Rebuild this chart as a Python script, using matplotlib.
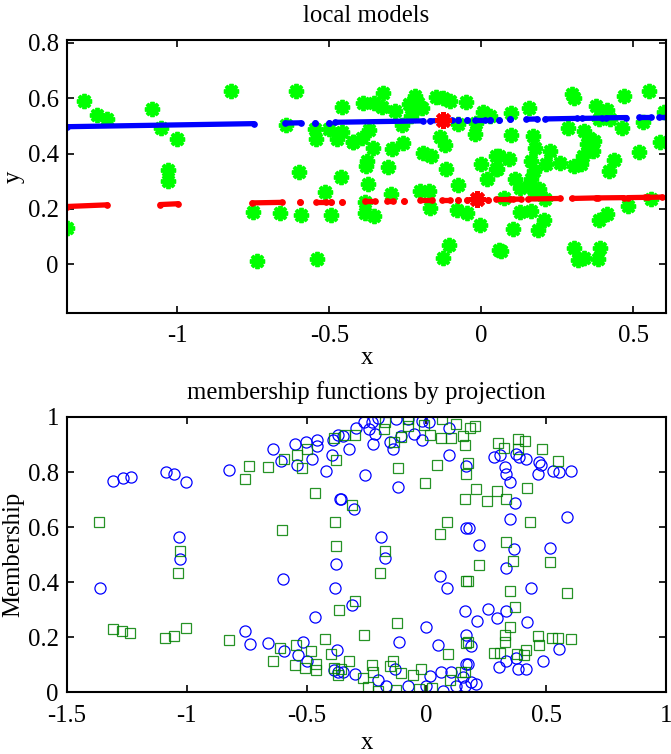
import matplotlib
matplotlib.use('Agg')
import matplotlib.pyplot as plt

plt.rcParams['font.family'] = ['Liberation Serif', 'DejaVu Serif']
plt.rcParams['axes.unicode_minus'] = False
FS = 17.8

# ---- top panel: samples (green stars)
star_x = [-1.306, -1.266, -1.233, -1.085, -1.055, -1.002, -1.030, -1.030, -1.363,
          -0.825, -0.609, -0.457, -0.642, -0.549, -0.501, -0.544, -0.475, -0.459, -0.421,
          -0.601, -0.461, -0.516, -0.752, -0.661, -0.592, -0.496, -0.737, -0.541,
          -0.325, -0.388, -0.353, -0.328, -0.284, -0.219, -0.237, -0.208, -0.224, -0.197,
          -0.148, -0.126, -0.102, -0.051, -0.230, -0.260, -0.077, 0.005, 0.027, -0.019,
          -0.020, -0.369, -0.393, -0.421, -0.357, -0.295, -0.257, -0.137, -0.120, -0.191,
          -0.167, -0.377, -0.379, -0.308, -0.117, -0.003, 0.049, 0.047, 0.018, -0.372,
          -0.077, -0.298, -0.202, -0.172, -0.383, -0.383, -0.353, -0.170, -0.080, -0.049,
          -0.006, -0.107, -0.128, 0.058,
          0.098, 0.158, 0.297, 0.304, 0.470, 0.552, 0.377, 0.413, 0.386, 0.424, 0.533,
          0.601, 0.284, 0.464, 0.096, 0.169, 0.336, 0.355, 0.369, 0.348, 0.366, 0.177,
          0.224, 0.588, 0.519, 0.059, 0.090, 0.052, 0.162, 0.213, 0.257, 0.333, 0.326,
          0.304, 0.435, 0.421, 0.172, 0.109, 0.164, 0.126, 0.158, 0.191, 0.175, 0.074,
          0.208, 0.557, 0.483, 0.126, 0.164, 0.205, 0.186, 0.104, 0.413, 0.388, 0.066,
          0.304, 0.317, 0.336, 0.391, 0.385]
star_y = [0.590, 0.538, 0.523, 0.560, 0.493, 0.454, 0.340, 0.300, 0.131,
          0.625, 0.625, 0.568, 0.502, 0.490, 0.487, 0.454, 0.454, 0.478, 0.442,
          0.335, 0.317, 0.261, 0.189, 0.184, 0.177, 0.180, 0.014, 0.018,
          0.617, 0.581, 0.584, 0.569, 0.553, 0.608, 0.578, 0.584, 0.557, 0.566,
          0.604, 0.602, 0.590, 0.586, 0.535, 0.502, 0.505, 0.550, 0.535, 0.512,
          0.472, 0.484, 0.455, 0.442, 0.419, 0.415, 0.437, 0.460, 0.430, 0.403,
          0.391, 0.373, 0.355, 0.353, 0.345, 0.361, 0.391, 0.345, 0.309, 0.291,
          0.288, 0.253, 0.265, 0.265, 0.225, 0.187, 0.174, 0.205, 0.196, 0.187,
          0.142, 0.070, 0.023, 0.051,
          0.548, 0.563, 0.614, 0.602, 0.608, 0.626, 0.571, 0.557, 0.523, 0.523, 0.514,
          0.550, 0.493, 0.493, 0.467, 0.463, 0.481, 0.457, 0.445, 0.433, 0.409, 0.421,
          0.409, 0.442, 0.405, 0.393, 0.382, 0.345, 0.373, 0.364, 0.367, 0.391, 0.361,
          0.355, 0.377, 0.337, 0.337, 0.309, 0.309, 0.277, 0.283, 0.271, 0.259, 0.241,
          0.235, 0.235, 0.211, 0.189, 0.192, 0.162, 0.126, 0.129, 0.181, 0.160, 0.048,
          0.058, 0.016, 0.024, 0.058, 0.018]

# cluster centres (red stars)
centre_x = [-0.128, -0.013]
centre_y = [0.521, 0.235]

# local model 1 (blue): segments x0..x1 with y0..y1
blue_x0 = [-1.363, -0.645, -0.547, -0.500, -0.481, -0.170, -0.077, -0.049, -0.022, 0.027,
           0.058, 0.093, 0.148, 0.210, 0.330, 0.410, 0.517, 0.585]
blue_x1 = [-0.749, -0.595, -0.547, -0.500, -0.191, -0.098, -0.077, -0.049, 0.011, 0.027,
           0.058, 0.093, 0.184, 0.315, 0.395, 0.477, 0.557, 0.607]
blue_y0 = [0.497, 0.510, 0.512, 0.512, 0.513, 0.518, 0.520, 0.520, 0.521, 0.522,
           0.522, 0.523, 0.524, 0.525, 0.527, 0.529, 0.531, 0.532]
blue_y1 = [0.508, 0.511, 0.512, 0.512, 0.518, 0.520, 0.520, 0.520, 0.521, 0.522,
           0.522, 0.523, 0.525, 0.527, 0.528, 0.530, 0.531, 0.532]

# local model 2 (red)
red_x0 = [-1.363, -1.057, -0.754, -0.598, -0.543, -0.494, -0.459, -0.383, -0.311, -0.255,
          -0.202, -0.131, -0.077, -0.047, -0.022, 0.022, 0.049, 0.104, 0.153, 0.297,
          0.382, 0.481, 0.549]
red_x1 = [-1.230, -0.998, -0.656, -0.598, -0.511, -0.494, -0.459, -0.350, -0.292, -0.255,
          -0.164, -0.104, -0.077, -0.047, 0.000, 0.022, 0.093, 0.129, 0.260, 0.377,
          0.468, 0.538, 0.595]
red_y0 = [0.209, 0.216, 0.222, 0.225, 0.226, 0.226, 0.227, 0.228, 0.229, 0.230,
          0.231, 0.232, 0.233, 0.233, 0.233, 0.234, 0.235, 0.235, 0.236, 0.238,
          0.240, 0.241, 0.242]
red_y1 = [0.215, 0.219, 0.224, 0.225, 0.226, 0.226, 0.227, 0.228, 0.229, 0.230,
          0.231, 0.232, 0.233, 0.233, 0.234, 0.234, 0.235, 0.236, 0.238, 0.240,
          0.241, 0.242, 0.243]

# ---- bottom panel: memberships
circ_x = [-1.307, -1.268, -1.235, -1.088, -1.052, -1.002, -1.033, -1.027, -1.363,
          -0.825, -0.640, -0.549, -0.504, -0.456, -0.456, -0.608, -0.542, -0.477, -0.420,
          -0.395, -0.390, -0.369, -0.362, -0.600, -0.376, -0.380, -0.463, -0.758, -0.737,
          -0.661, -0.594, -0.517, -0.538, -0.498, -0.374, -0.385, -0.369,
          -0.348, -0.323, -0.292, -0.262, -0.239, -0.229, -0.223, -0.202, -0.214, -0.153,
          -0.139, -0.128, -0.104, -0.076, -0.053, -0.017, -0.017, 0.011, 0.094, 0.094,
          -0.257, -0.120, 0.164, -0.355, -0.303, -0.191, -0.171, 0.058, 0.088, 0.164,
          -0.309, -0.003, -0.116, 0.049, 0.160, 0.164,
          -0.350, -0.299, -0.202, -0.167, -0.077, -0.003, 0.017, 0.063, 0.104, 0.069,
          0.153, 0.125, 0.164, -0.132,
          0.282, 0.306, 0.327, 0.334, 0.350, 0.375, 0.385, 0.417, 0.469, 0.477, 0.466,
          0.528, 0.553, 0.602, 0.368, 0.350, 0.588, 0.176, 0.221, 0.364, 0.517, 0.334,
          0.435, 0.257, 0.334, 0.296, 0.213, 0.420, 0.185, 0.552, 0.487, 0.303, 0.331,
          0.382, 0.414, 0.375, 0.174, 0.188, 0.209, 0.160]
circ_y = [0.767, 0.778, 0.783, 0.799, 0.794, 0.763, 0.564, 0.484, 0.378,
          0.806, 0.883, 0.901, 0.909, 0.918, 0.895, 0.840, 0.827, 0.847, 0.804,
          0.860, 0.918, 0.936, 0.701, 0.410, 0.467, 0.378, 0.273, 0.223, 0.175,
          0.180, 0.149, 0.184, 0.136, 0.112, 0.154, 0.079, 0.073,
          0.930, 0.884, 0.960, 0.980, 0.958, 0.982, 0.901, 0.996, 0.938, 0.909,
          0.885, 0.992, 0.930, 0.994, 0.937, 0.985, 0.915, 0.980, 0.960, 0.861,
          0.790, 0.745, 0.821, 0.703, 0.667, 0.564, 0.489, 0.422, 0.380, 0.596,
          0.315, 0.236, 0.182, 0.172, 0.295, 0.206,
          0.073, 0.067, 0.043, 0.024, 0.024, 0.021, 0.058, 0.073, 0.073, 0.003,
          0.055, 0.024, 0.103, 0.083,
          0.855, 0.861, 0.818, 0.794, 0.764, 0.867, 0.855, 0.846, 0.836, 0.827, 0.794,
          0.804, 0.800, 0.804, 0.689, 0.630, 0.635, 0.596, 0.533, 0.519, 0.524, 0.452,
          0.378, 0.303, 0.295, 0.269, 0.258, 0.255, 0.167, 0.156, 0.113, 0.091, 0.112,
          0.085, 0.085, 0.125, 0.103, 0.036, 0.030, 0.022]

sq_x = [-1.366, -1.310, -1.271, -1.237, -1.090, -1.054, -1.004, -1.029, -1.035,
        -0.740, -0.759, -0.661, -0.595, -0.540, -0.498, -0.519, -0.385, -0.377, -0.463,
        -0.602, -0.381, -0.377, -0.363, -0.825, -0.423, -0.611, -0.544, -0.480, -0.641,
        -0.549, -0.505, -0.459, -0.459, -0.398, -0.385, -0.369,
        -0.341, -0.299, -0.174, -0.177, -0.077, -0.077, -0.011, 0.014, 0.067, 0.060,
        0.104, 0.125, 0.153, 0.160, -0.135, -0.104, -0.117, -0.006, 0.046, 0.164,
        -0.310, 0.086, 0.055, 0.160, -0.171, -0.193, -0.300, -0.123, -0.260, 0.090,
        0.164, 0.164, -0.325, -0.225, -0.223, -0.153, -0.139, -0.104, -0.056, -0.021,
        -0.264, -0.244, -0.204, -0.125, -0.031, 0.023, 0.097, 0.146, -0.355,
        0.202, 0.181, 0.299, 0.324, 0.382, 0.410, 0.382, 0.484, 0.551, 0.174, 0.418,
        0.209, 0.295, 0.254, 0.331, 0.432, 0.332, 0.219, 0.361, 0.516, 0.175, 0.348,
        0.587, 0.368, 0.348, 0.330, 0.327, 0.466, 0.468, 0.524, 0.551, 0.602, 0.417,
        0.282, 0.306, 0.380, 0.407, 0.174, 0.160]
sq_y = [0.620, 0.231, 0.221, 0.216, 0.198, 0.204, 0.234, 0.514, 0.434,
        0.822, 0.773, 0.818, 0.849, 0.863, 0.885, 0.813, 0.925, 0.845, 0.725,
        0.588, 0.620, 0.531, 0.297, 0.191, 0.194, 0.159, 0.170, 0.150, 0.115,
        0.097, 0.087, 0.103, 0.079, 0.138, 0.089, 0.063,
        0.936, 0.933, 0.982, 0.958, 0.992, 0.967, 0.970, 0.936, 0.994, 0.925,
        0.925, 0.976, 0.931, 0.897, 0.909, 0.927, 0.815, 0.761, 0.827, 0.792,
        0.681, 0.620, 0.576, 0.703, 0.512, 0.434, 0.333, 0.252, 0.209, 0.140,
        0.403, 0.180, 0.114, 0.100, 0.073, 0.094, 0.115, 0.069, 0.063, 0.085,
        0.053, 0.018, 0.006, 0.007, 0.012, 0.016, 0.043, 0.073, 0.085,
        0.967, 0.960, 0.905, 0.887, 0.919, 0.912, 0.885, 0.885, 0.840, 0.831, 0.743,
        0.740, 0.730, 0.693, 0.703, 0.618, 0.544, 0.463, 0.478, 0.474, 0.403, 0.367,
        0.361, 0.311, 0.236, 0.206, 0.182, 0.204, 0.172, 0.196, 0.198, 0.195, 0.154,
        0.143, 0.143, 0.140, 0.136, 0.182, 0.073]


def style_axes(ax):
    ax.tick_params(direction='in', top=True, right=True, length=5, width=1.2,
                   labelsize=FS)
    ax.tick_params(axis='x', pad=9)
    ax.tick_params(axis='y', pad=6)
    for s in ax.spines.values():
        s.set_linewidth(1.5)


fig = plt.figure(figsize=(6.71, 7.54), dpi=100)

# top: local models
ax1 = fig.add_axes([0.0999, 0.585, 0.8926, 0.362])
ax1.plot(star_x, star_y, linestyle='none', marker=(8, 2, 0), markersize=11,
         markeredgewidth=2.8, color=(0, 1, 0))
for x0, x1, y0, y1 in zip(blue_x0, blue_x1, blue_y0, blue_y1):
    ax1.plot([x0, x1], [y0, y1], color='blue', linewidth=3.8, marker='o',
             markersize=3.8, solid_capstyle='round')
for x0, x1, y0, y1 in zip(red_x0, red_x1, red_y0, red_y1):
    ax1.plot([x0, x1], [y0, y1], color='red', linewidth=3.8, marker='o',
             markersize=3.8, solid_capstyle='round')
ax1.plot(centre_x, centre_y, linestyle='none', marker=(8, 2, 0), markersize=12,
         markeredgewidth=3.0, color='red')
ax1.set_xlim(-1.363, 0.607)
ax1.set_ylim(-0.175, 0.81)
ax1.set_xticks([-1, -0.5, 0, 0.5])
ax1.set_xticklabels(['-1', '-0.5', '0', '0.5'])
ax1.set_yticks([0, 0.2, 0.4, 0.6, 0.8])
ax1.set_yticklabels(['0', '0.2', '0.4', '0.6', '0.8'])
ax1.set_xlabel('x', fontsize=FS, labelpad=0)
ax1.set_ylabel('y', fontsize=FS, labelpad=2)
ax1.set_title('local models', fontsize=FS, pad=13)
style_axes(ax1)

# bottom: membership functions
ax2 = fig.add_axes([0.0999, 0.082, 0.8926, 0.365])
ax2.plot(circ_x, circ_y, linestyle='none', marker='o', markersize=8,
         markerfacecolor='none', markeredgecolor='blue', markeredgewidth=0.9)
ax2.plot(sq_x, sq_y, linestyle='none', marker='s', markersize=7,
         markerfacecolor='none', markeredgecolor=(0, 0.5, 0), markeredgewidth=0.9,
         alpha=0.85)
ax2.set_xlim(-1.5, 1)
ax2.set_ylim(0, 1)
ax2.set_xticks([-1.5, -1, -0.5, 0, 0.5, 1])
ax2.set_xticklabels(['-1.5', '-1', '-0.5', '0', '0.5', '1'])
ax2.set_yticks([0, 0.2, 0.4, 0.6, 0.8, 1])
ax2.set_yticklabels(['0', '0.2', '0.4', '0.6', '0.8', '1'])
ax2.set_xlabel('x', fontsize=FS, labelpad=4)
ax2.set_ylabel('Membership', fontsize=FS, labelpad=2)
ax2.set_title('membership functions by projection', fontsize=FS, pad=13)
style_axes(ax2)

fig.savefig('out.png', dpi=100)
